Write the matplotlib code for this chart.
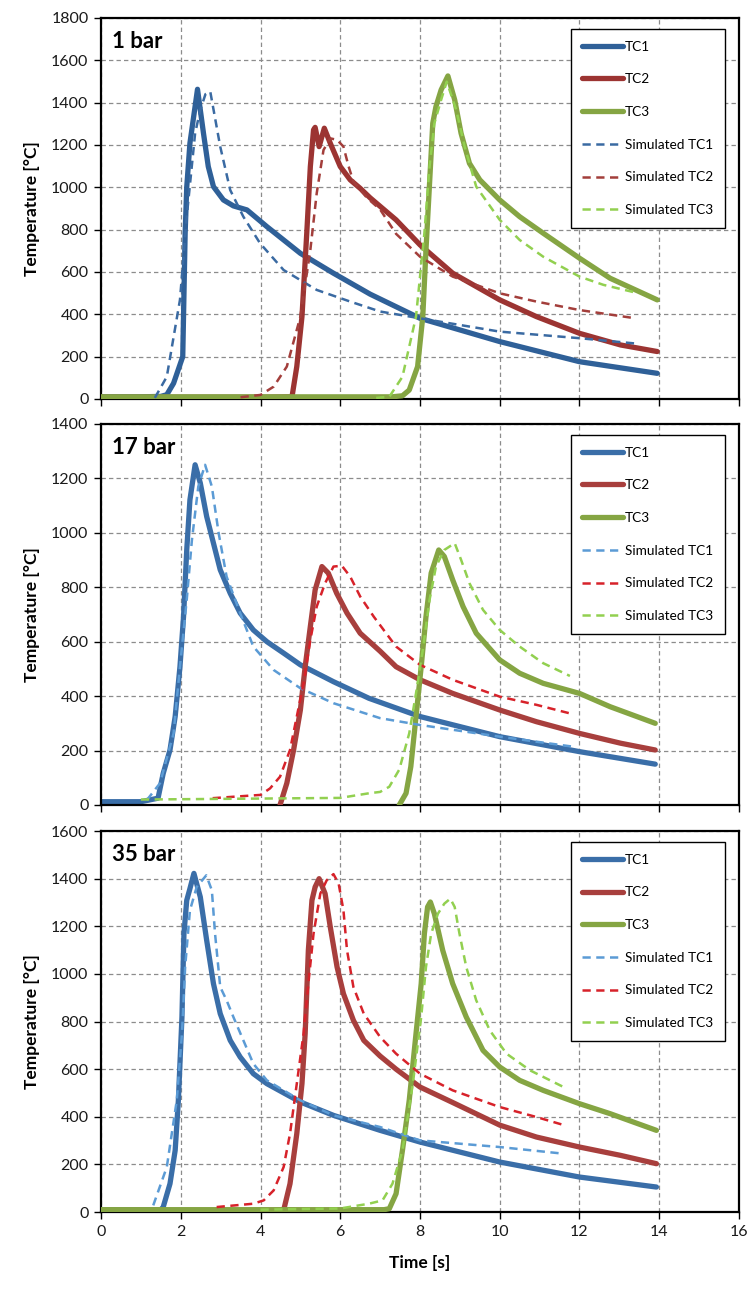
import matplotlib
matplotlib.use("Agg")
import matplotlib.pyplot as plt

plt.rcParams['font.family'] = ['Lato', 'DejaVu Sans']

# ---------------- 1 bar ----------------
t_tc1_1 = [0, 1.0, 1.5, 1.65, 1.82, 2.05, 2.11, 2.15, 2.23, 2.42, 2.57, 2.69, 2.82, 3.07, 3.32, 3.66,
           4.16, 5.0, 5.83, 6.75, 8.0, 10.0, 12.0, 13.95]
T_tc1_1 = [10, 10, 12, 20, 74, 200, 783, 1000, 1208, 1463, 1255, 1098, 1003, 940, 912, 893,
           814, 688, 594, 495, 381, 271, 176, 121]
t_tc2_1 = [0, 4.0, 4.79, 4.91, 5.04, 5.16, 5.25, 5.33, 5.37, 5.47, 5.6, 5.75, 6.0, 6.25, 6.5, 6.75,
           7.4, 8.0, 8.82, 10.0, 10.92, 12.0, 13.03, 13.95]
T_tc2_1 = [8, 8, 10, 153, 389, 783, 1098, 1271, 1283, 1192, 1279, 1208, 1098, 1035, 995, 950,
           846, 728, 594, 468, 389, 310, 255, 224]
t_tc3_1 = [0, 7.3, 7.56, 7.73, 7.94, 8.07, 8.15, 8.24, 8.32, 8.4, 8.53, 8.7, 8.87, 9.03, 9.24, 9.5,
           10.0, 10.5, 11.09, 12.0, 12.77, 13.95]
T_tc3_1 = [10, 10, 15, 42, 153, 389, 704, 1019, 1302, 1381, 1460, 1526, 1413, 1255, 1113, 1035,
           940, 861, 783, 665, 570, 468]
t_sim1_1 = [1.35, 1.65, 1.98, 2.15, 2.36, 2.49, 2.62, 2.74, 2.99, 3.24, 3.57, 3.99, 4.58, 5.41, 6.25,
            7.0, 8.0, 10.0, 12.0, 13.4]
T_sim1_1 = [5, 105, 468, 861, 1255, 1365, 1440, 1452, 1192, 987, 861, 735, 609, 515, 460,
            413, 381, 318, 287, 262]
t_sim2_1 = [3.5, 4.0, 4.33, 4.66, 5.0, 5.25, 5.41, 5.58, 5.75, 5.92, 6.08, 6.21, 6.33, 6.67, 7.0,
            7.4, 8.0, 8.82, 10.0, 10.92, 12.0, 13.4]
T_sim2_1 = [8, 19, 58, 153, 389, 704, 972, 1176, 1231, 1224, 1192, 1098, 1027, 950, 895,
            780, 672, 578, 499, 460, 420, 381]
t_sim3_1 = [6.9, 7.23, 7.56, 7.9, 8.11, 8.24, 8.36, 8.53, 8.67, 8.91, 9.12, 9.41, 10.0, 10.5, 11.09,
            12.0, 12.6, 13.35]
T_sim3_1 = [5, 10, 105, 389, 783, 1098, 1302, 1413, 1499, 1365, 1192, 1003, 846, 751, 672,
            578, 539, 505]

# ---------------- 17 bar ----------------
t_tc1_17 = [0, 1.0, 1.43, 1.56, 1.73, 1.86, 1.98, 2.07, 2.15, 2.23, 2.36, 2.49, 2.65, 2.82, 2.99,
            3.24, 3.49, 3.82, 4.16, 4.58, 5.0, 5.83, 6.72, 8.0, 10.0, 12.0, 13.9]
T_tc1_17 = [12, 12, 25, 116, 202, 325, 508, 692, 937, 1121, 1250, 1183, 1060, 962, 864,
            778, 705, 643, 600, 558, 515, 453, 392, 325, 251, 196, 150]
t_tc2_17 = [4.49, 4.66, 4.83, 5.0, 5.12, 5.25, 5.37, 5.54, 5.7, 5.91, 6.17, 6.5, 7.0, 7.4, 8.0,
            8.82, 10.0, 10.92, 12.0, 13.03, 13.9]
T_tc2_17 = [0, 80, 202, 349, 508, 656, 790, 876, 852, 778, 705, 631, 565, 508, 460,
            410, 349, 306, 263, 227, 202]
t_tc3_17 = [7.48, 7.65, 7.77, 7.9, 8.03, 8.15, 8.28, 8.47, 8.61, 8.82, 9.08, 9.41, 10.0, 10.5,
            11.09, 12.0, 12.77, 13.9]
T_tc3_17 = [0, 43, 141, 325, 508, 692, 852, 937, 913, 827, 729, 631, 533, 484,
            447, 410, 361, 300]
t_sim1_17 = [1.15, 1.48, 1.82, 1.98, 2.15, 2.28, 2.44, 2.61, 2.78, 2.95, 3.15, 3.49, 3.82, 4.33,
             5.0, 5.83, 7.0, 8.0, 10.0, 11.8]
T_sim1_17 = [18, 80, 263, 508, 754, 974, 1170, 1250, 1170, 999, 839, 705, 582, 496,
             429, 374, 319, 294, 251, 215]
t_sim2_17 = [2.8, 4.0, 4.24, 4.49, 4.74, 4.91, 5.08, 5.25, 5.41, 5.62, 5.83, 6.04, 6.25, 6.5, 6.84,
             7.4, 8.0, 8.82, 10.0, 10.92, 11.8]
T_sim2_17 = [25, 37, 61, 104, 202, 325, 447, 607, 729, 815, 876, 879, 839, 766, 692,
             582, 515, 460, 398, 368, 335]
t_sim3_17 = [1.0, 6.0, 6.72, 7.0, 7.23, 7.48, 7.73, 7.9, 8.07, 8.24, 8.4, 8.61, 8.87, 9.03, 9.24,
             9.58, 10.0, 10.5, 11.09, 11.76]
T_sim3_17 = [20, 26, 43, 48, 67, 130, 263, 410, 570, 754, 876, 937, 962, 901, 815,
             717, 643, 582, 521, 474]

# ---------------- 35 bar ----------------
t_tc1_35 = [0, 1.5, 1.56, 1.73, 1.86, 1.94, 2.03, 2.08, 2.15, 2.23, 2.33, 2.49, 2.65, 2.82, 2.99,
            3.24, 3.49, 3.82, 4.16, 5.0, 5.83, 7.0, 8.0, 10.0, 12.0, 13.93]
T_tc1_35 = [10, 10, 21, 119, 259, 469, 819, 1169, 1309, 1358, 1422, 1323, 1141, 959, 833,
            721, 651, 581, 539, 462, 406, 343, 294, 210, 147, 105]
t_tc2_35 = [4.58, 4.74, 4.91, 5.04, 5.12, 5.2, 5.29, 5.37, 5.47, 5.62, 5.75, 5.92, 6.08, 6.33, 6.59,
            7.0, 7.4, 8.0, 8.82, 10.0, 10.92, 12.0, 13.03, 13.93]
T_tc2_35 = [7, 119, 329, 539, 749, 1099, 1309, 1365, 1400, 1337, 1197, 1029, 917, 805, 721,
            655, 600, 525, 460, 365, 315, 273, 238, 203]
t_tc3_35 = [0, 7.1, 7.23, 7.4, 7.56, 7.73, 7.9, 8.03, 8.11, 8.19, 8.26, 8.36, 8.57, 8.82, 9.16,
            9.58, 10.0, 10.5, 11.09, 12.0, 12.77, 13.93]
T_tc3_35 = [10, 10, 14, 77, 259, 469, 749, 959, 1169, 1281, 1302, 1253, 1099, 959, 819,
            679, 609, 553, 511, 455, 413, 343]
t_sim1_35 = [1.31, 1.65, 1.9, 2.03, 2.11, 2.23, 2.4, 2.64, 2.78, 2.86, 2.99, 3.15, 3.32, 3.57,
             3.82, 4.16, 5.0, 5.83, 7.0, 8.0, 10.0, 11.6]
T_sim1_35 = [28, 189, 469, 749, 1029, 1267, 1365, 1414, 1351, 1169, 945, 889, 819, 721,
             623, 553, 469, 406, 357, 301, 273, 245]
t_sim2_35 = [2.9, 3.82, 4.08, 4.33, 4.58, 4.74, 4.91, 5.08, 5.2, 5.33, 5.5, 5.66, 5.83, 5.96, 6.08,
             6.17, 6.33, 6.59, 7.0, 7.4, 8.0, 8.82, 10.0, 10.92, 11.55]
T_sim2_35 = [21, 35, 49, 91, 189, 329, 539, 749, 959, 1169, 1337, 1393, 1419, 1379, 1267,
             1099, 945, 833, 735, 665, 581, 511, 441, 399, 368]
t_sim3_35 = [4.0, 6.0, 6.72, 7.06, 7.31, 7.56, 7.82, 8.03, 8.15, 8.28, 8.45, 8.61, 8.76, 8.87, 8.99,
             9.16, 9.41, 9.75, 10.17, 10.76, 11.6]
T_sim3_35 = [10, 15, 35, 49, 119, 259, 539, 819, 1029, 1169, 1253, 1295, 1316, 1281, 1169,
             1029, 889, 763, 665, 595, 525]

panel_titles = ["1 bar", "17 bar", "35 bar"]
y_limits = [1800, 1400, 1600]
series_labels = ["TC1", "TC2", "TC3", "Simulated TC1", "Simulated TC2", "Simulated TC3"]
x_ticks = [0, 2, 4, 6, 8, 10, 12, 14, 16]

panels = [
    [(t_tc1_1, T_tc1_1), (t_tc2_1, T_tc2_1), (t_tc3_1, T_tc3_1),
     (t_sim1_1, T_sim1_1), (t_sim2_1, T_sim2_1), (t_sim3_1, T_sim3_1)],
    [(t_tc1_17, T_tc1_17), (t_tc2_17, T_tc2_17), (t_tc3_17, T_tc3_17),
     (t_sim1_17, T_sim1_17), (t_sim2_17, T_sim2_17), (t_sim3_17, T_sim3_17)],
    [(t_tc1_35, T_tc1_35), (t_tc2_35, T_tc2_35), (t_tc3_35, T_tc3_35),
     (t_sim1_35, T_sim1_35), (t_sim2_35, T_sim2_35), (t_sim3_35, T_sim3_35)],
]

colors_1bar = ["#2f6098", "#9c3432", "#85a543", "#3a6aa2", "#a33e3b", "#92d050"]
colors_hp = ["#3a6ea8", "#a83f3d", "#85a543", "#5b9bd5", "#d7222a", "#92d050"]
panel_colors = [colors_1bar, colors_hp, colors_hp]

fig = plt.figure(figsize=(7.51, 12.89), dpi=100)
left, width = 0.1345, 0.8495
bottoms = [0.6905, 0.3755, 0.0597]
height = 0.2956

for i in range(3):
    ax = fig.add_axes([left, bottoms[i], width, height])
    cols = panel_colors[i]
    for k, (tt, TT) in enumerate(panels[i]):
        if k < 3:
            ax.plot(tt, TT, color=cols[k], lw=3.8, solid_joinstyle='round',
                    solid_capstyle='round', label=series_labels[k], zorder=2 + k)
        else:
            ax.plot(tt, TT, color=cols[k], lw=1.8, dashes=(3.3, 2.2),
                    label=series_labels[k], zorder=6 + k)
    ax.set_xlim(0, 16)
    ax.set_ylim(0, y_limits[i])
    ax.set_xticks(x_ticks)
    ax.set_yticks(range(0, y_limits[i] + 1, 200))
    ax.grid(True, color="#8c8c8c", lw=0.9, dashes=(3.5, 2.5))
    ax.set_axisbelow(True)
    for sp in ax.spines.values():
        sp.set_linewidth(1.6)
        sp.set_color("black")
    ax.tick_params(direction='out', length=5, width=1.0, labelsize=11.5,
                   labelcolor="#1a1a1a", pad=4)
    if i < 2:
        ax.tick_params(axis='x', labelbottom=False)
    ax.set_ylabel("Temperature [°C]", fontsize=12.5, fontweight='bold', labelpad=8)
    ax.text(0.017, 0.965, panel_titles[i], transform=ax.transAxes, fontsize=16,
            fontweight='bold', va='top', ha='left')
    leg = ax.legend(loc='upper right', bbox_to_anchor=(0.978, 0.971), borderaxespad=0,
                    fontsize=9.8, handlelength=3.0, handletextpad=0.15, labelspacing=1.52,
                    borderpad=0.85, fancybox=False, framealpha=1, edgecolor='black')
    leg.get_frame().set_linewidth(1.0)

fig.axes[-1].set_xlabel("Time [s]", fontsize=12.5, fontweight='bold', labelpad=12)
fig.savefig("out.png", dpi=100, facecolor="white")
